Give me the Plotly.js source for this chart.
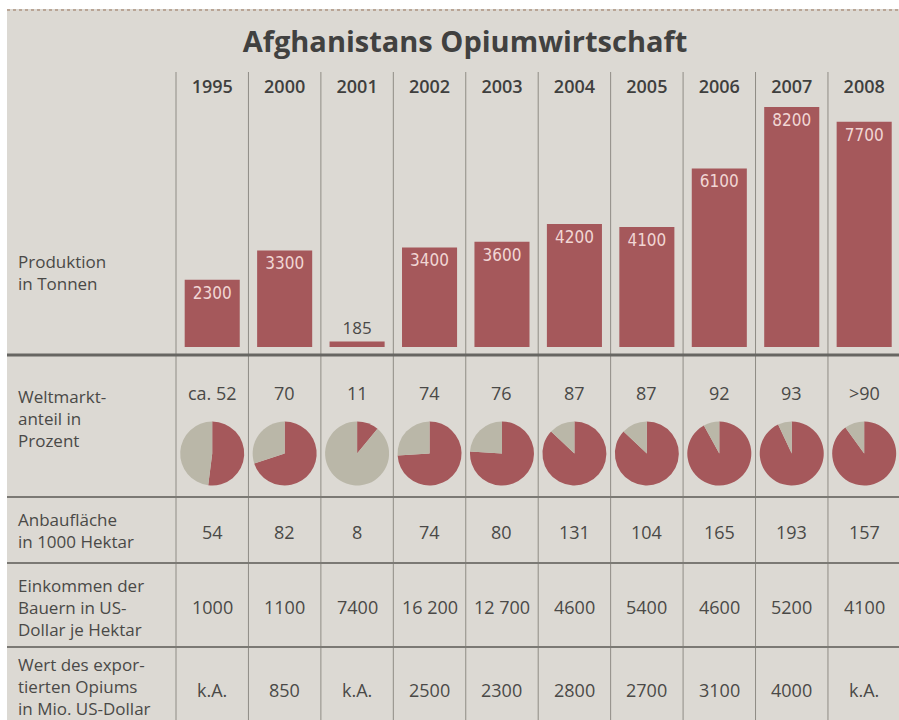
<!DOCTYPE html>
<html>
<head>
<meta charset="utf-8">
<script src="https://cdn.plot.ly/plotly-3.0.1.min.js"></script>
<style>html,body{margin:0;padding:0;background:#dcd9d3;}#chart{width:899px;height:720px;}</style>
</head>
<body>
<div id="chart"></div>
<script>
// ---- data ----
var years = ["1995","2000","2001","2002","2003","2004","2005","2006","2007","2008"];
var production = [2300, 3300, 185, 3400, 3600, 4200, 4100, 6100, 8200, 7700];
var productionLabels = ["2300","3300","185","3400","3600","4200","4100","6100","8200","7700"];
var marketShare = [52, 70, 11, 74, 76, 87, 87, 92, 93, 90];
var marketShareLabels = ["ca. 52","70","11","74","76","87","87","92","93",">90"];
var area = ["54","82","8","74","80","131","104","165","193","157"];
var income = ["1000","1100","7400","16 200","12 700","4600","5400","4600","5200","4100"];
var exportValue = ["k.A.","850","k.A.","2500","2300","2800","2700","3100","4000","k.A."];
var rowLabels = ["Produktion<br>in Tonnen","Weltmarkt-<br>anteil in<br>Prozent","Anbaufläche<br>in 1000 Hektar","Einkommen der<br>Bauern in US-<br>Dollar je Hektar","Wert des expor-<br>tierten Opiums<br>in Mio. US-Dollar"];
var titleText = "Afghanistans Opiumwirtschaft";

// ---- layout helpers ----
var W = 899, H = 720;
var RED = "#a5585b", GREY = "#bab7a8", TXT = "#4a4947";
var colLeft = 176, colW = 72.44;
function py(p){ return 1 - p / H; }
function cx(i){ return colLeft + colW * (i + 0.5); }
var FONT = "Open Sans, DejaVu Sans, sans-serif";

var xr0 = -0.5 - colLeft / colW;
var xr1 = xr0 + W / colW;
var pxPerUnit = (347 - 107) / 8200;
var yTopPx = 98;
var yMax = (347 - yTopPx) / pxPerUnit;

var traces = [{
  type: "bar",
  x: years,
  y: production,
  text: productionLabels,
  textposition: production.map(function(v){ return v < 1000 ? "outside" : "inside"; }),
  insidetextanchor: "end",
  insidetextfont: {family: "DejaVu Sans Condensed, " + FONT, size: 17, color: "#f1d6d4"},
  outsidetextfont: {family: FONT, size: 17, color: TXT},
  textangle: 0,
  constraintext: "none",
  cliponaxis: false,
  marker: {color: RED, line: {width: 0}},
  width: 0.76,
  hoverinfo: "none",
  showlegend: false
}];

marketShare.forEach(function(v, i){
  var c = cx(i);
  traces.push({
    type: "pie",
    values: [v, 100 - v],
    sort: false,
    direction: "clockwise",
    rotation: 0,
    marker: {colors: [RED, GREY], line: {width: 0}},
    textinfo: "none",
    hoverinfo: "none",
    showlegend: false,
    domain: {x: [(c - 32) / W, (c + 32) / W], y: [py(486), py(421)]}
  });
});

var annotations = [];
function rowAnn(arr, ypx){
  arr.forEach(function(t, i){
    annotations.push({xref: "x", yref: "paper", x: i, y: py(ypx), text: t, showarrow: false,
      xanchor: "center", yanchor: "middle", font: {family: FONT, size: 18, color: TXT}});
  });
}
rowAnn(marketShareLabels, 393);
rowAnn(area, 532);
rowAnn(income, 607);
rowAnn(exportValue, 690);

var labelY = [272, 418, 530, 607, 686];
rowLabels.forEach(function(t, k){
  annotations.push({xref: "paper", yref: "paper", x: 16 / W, y: py(labelY[k]), text: t, showarrow: false,
    xanchor: "left", yanchor: "middle", align: "left", font: {family: FONT, size: 17, color: TXT}});
});

var shapes = [];
// white top strip and left margin (paper border)
shapes.push({type: "rect", xref: "paper", yref: "paper", x0: 0, x1: 1, y0: py(9), y1: 1, fillcolor: "#ffffff", line: {width: 0}, layer: "below"});
shapes.push({type: "rect", xref: "paper", yref: "paper", x0: 0, x1: 7 / W, y0: 0, y1: 1, fillcolor: "#ffffff", line: {width: 0}, layer: "below"});
shapes.push({type: "line", xref: "paper", yref: "paper", x0: 7 / W, x1: 1, y0: py(10), y1: py(10), line: {color: "#b9a596", width: 2, dash: "dot"}});
// column separators
for (var i = 0; i < years.length; i++) {
  shapes.push({type: "line", xref: "x", yref: "paper", x0: i - 0.5, x1: i - 0.5, y0: 0, y1: py(72),
    line: {color: "#8f8c85", width: 1}, layer: "below"});
}
// row separators
[[355, 3, "#676662"], [497, 2, "#7b7974"], [563, 2, "#7b7974"], [647, 2, "#7b7974"]].forEach(function(r){
  shapes.push({type: "line", xref: "paper", yref: "paper", x0: 7 / W, x1: 1, y0: py(r[0]), y1: py(r[0]),
    line: {color: r[2], width: r[1]}});
});

var layout = {
  width: W, height: H,
  margin: {l: 0, r: 0, t: 0, b: 0},
  paper_bgcolor: "#dcd9d3",
  plot_bgcolor: "rgba(0,0,0,0)",
  title: {text: "<b>" + titleText + "</b>", x: 465 / W, xanchor: "center", y: py(42), yanchor: "middle",
    font: {family: FONT, size: 29, color: "#414140"}},
  xaxis: {type: "category", range: [xr0, xr1], domain: [0, 1], side: "top", anchor: "y",
    showgrid: false, zeroline: false, showline: false, ticks: "",
    tickfont: {family: FONT, size: 18, color: "#3f3f3e", weight: 600}, fixedrange: true},
  yaxis: {range: [0, yMax], domain: [py(347), py(yTopPx)], visible: false, fixedrange: true},
  bargap: 0.24,
  annotations: annotations,
  shapes: shapes
};

Plotly.newPlot("chart", traces, layout, {displayModeBar: false, staticPlot: true});
</script>
</body>
</html>
